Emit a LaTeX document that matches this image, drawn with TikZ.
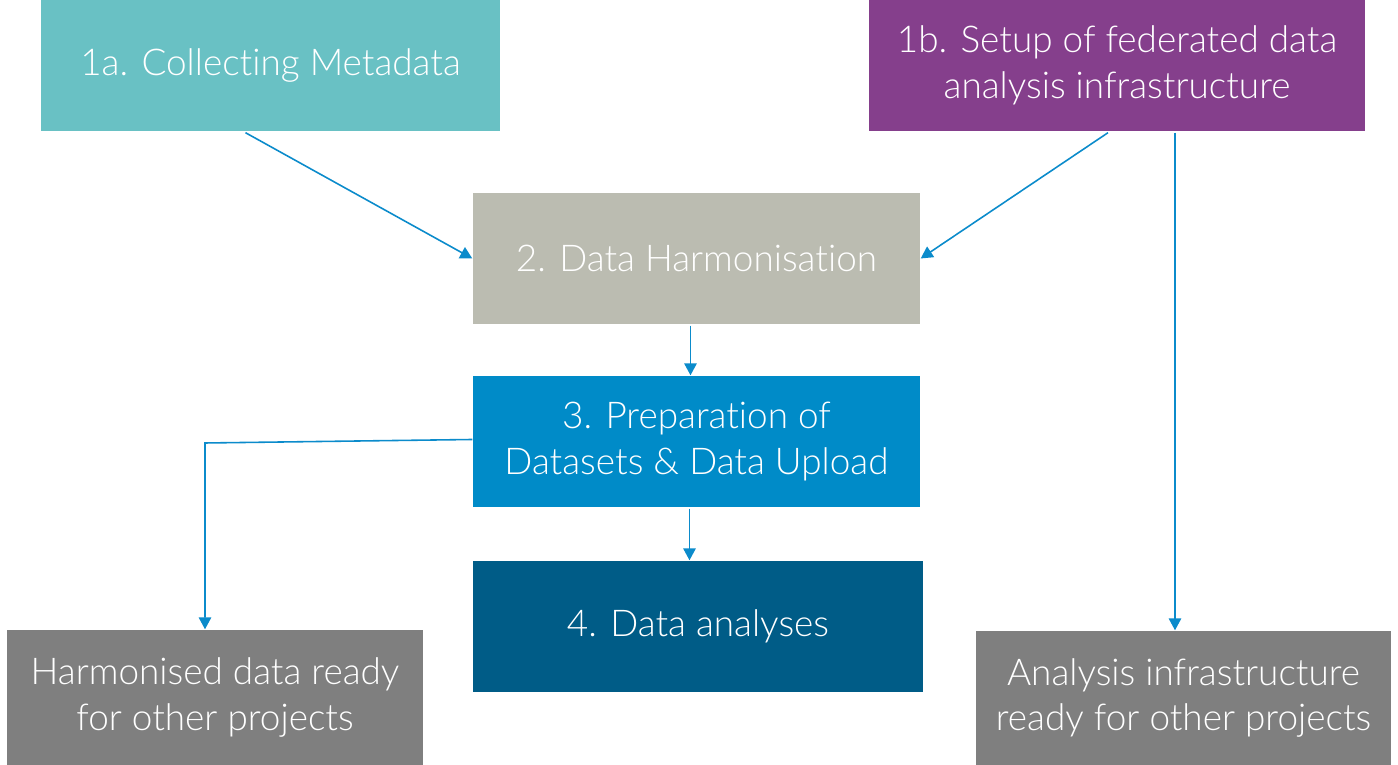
\documentclass[tikz,border=0pt]{standalone}
\usepackage{fontspec}
\setmainfont{Lato}[UprightFont=* Light, RawFeature={-liga;-calt;-dlig}]
\usepackage{xcolor}
\usepackage{tikz}
\usetikzlibrary{arrows.meta,calc}
\definecolor{tealbox}{HTML}{69C1C4}
\definecolor{purplebox}{HTML}{853F8C}
\definecolor{sandbox}{HTML}{BBBCB1}
\definecolor{bluebox}{HTML}{008BC8}
\definecolor{navybox}{HTML}{005C87}
\definecolor{greybox}{HTML}{7F7F7F}
\definecolor{linkblue}{HTML}{0B8BCB}

\begin{document}
\begin{tikzpicture}[x=0.1mm,y=-0.1mm,
    box/.style={fill=#1, text=white, align=center, inner sep=0pt,
        font=\fontsize{10.5}{12.9}\selectfont},
    flow/.style={draw=linkblue, line width=0.45pt,
        -{Triangle[length=1.2mm,width=1.25mm]}}]
            \useasboundingbox (0,0) rectangle (1398,765);
            \node [box=tealbox, minimum width=4.59cm, minimum height=1.31cm] (collect) at (270.5,65.5) {1a. Collecting Metadata};
            \node [box=purplebox, minimum width=4.96cm, minimum height=1.31cm] (setup) at (1117,65.5) {1b. Setup of federated data\\analysis infrastructure};
            \node [box=sandbox, minimum width=4.47cm, minimum height=1.31cm] (harmon) at (696.5,258.5) {2. Data Harmonisation};
            \node [box=bluebox, minimum width=4.47cm, minimum height=1.31cm] (prep) at (696.5,441.5) {3. Preparation of\\Datasets \& Data Upload};
            \node [box=navybox, minimum width=4.50cm, minimum height=1.31cm] (analyses) at (698,626.5) {4. Data analyses};
            \node [box=greybox, minimum width=4.16cm, minimum height=1.35cm] (dataready) at (215,697.5) {Harmonised data ready\\for other projects};
            \node [box=greybox, minimum width=4.15cm, minimum height=1.34cm] (infraready) at (1183.5,698) {Analysis infrastructure\\ready for other projects};
            \coordinate (bend) at (205,443);
            \draw [flow] ($(collect.south)+(-25,1)$) -- (harmon.west);
            \draw [flow] ($(setup.south)+(-9,1)$) -- (harmon.east);
            \draw [flow] ($(setup.south)+(58,1)$) coordinate (drop) -- (drop |- infraready.north);
            \draw [flow] ($(harmon.south)+(-6,1)$) coordinate (down) -- (down |- prep.north);
            \draw [flow] ($(prep.south)+(-7,1)$) coordinate (down) -- (down |- analyses.north);
            \draw [flow] ($(prep.west)+(0,-2)$) -- (bend) -- (bend |- dataready.north);
        \end{tikzpicture}
\end{document}
